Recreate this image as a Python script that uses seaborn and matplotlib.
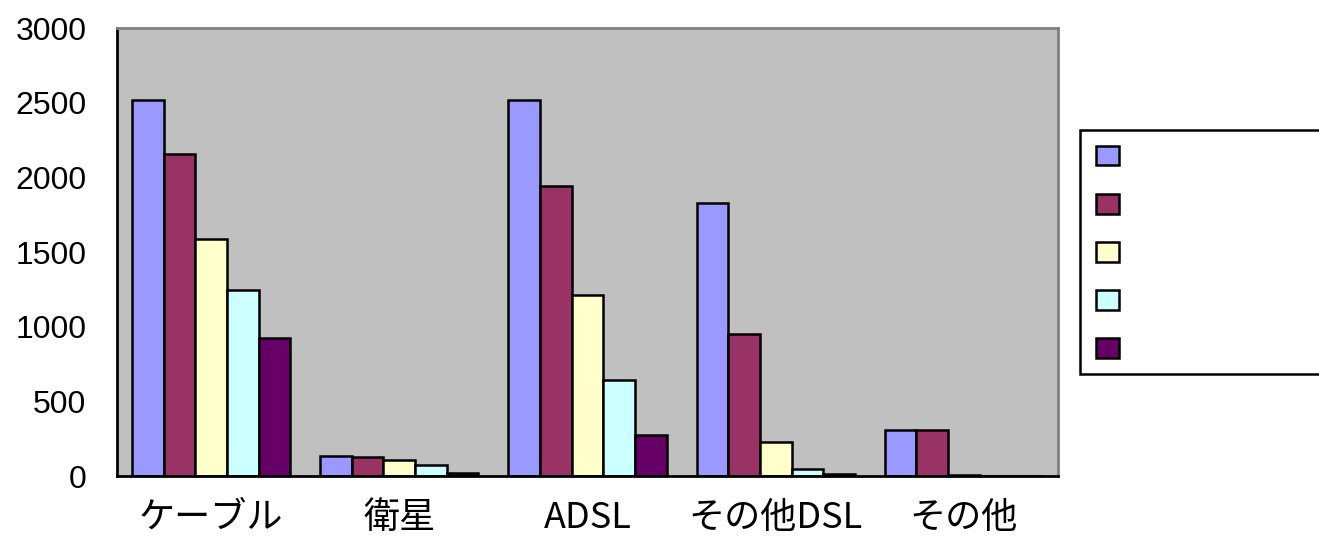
import pandas as pd
import numpy as np
import matplotlib
matplotlib.use("Agg")
import matplotlib.pyplot as plt
import seaborn as sns

# ── Data ──────────────────────────────────────────────────────────────────────
categories = ["ケーブル", "衛星", "ADSL", "その他DSL", "その他"]
series = ["s1", "s2", "s3", "s4", "s5"]
s1 = [2515, 135, 2515, 1825, 305]
s2 = [2155, 128, 1940, 950, 305]
s3 = [1585, 110, 1210, 228, 8]
s4 = [1245, 77, 642, 45, 2]
s5 = [925, 20, 275, 15, 1]
colors = ["#9999FF", "#993366", "#FFFFCC", "#CCFFFF", "#660066"]

df = pd.DataFrame({"category": categories * 5,
                   "series": np.repeat(series, 5),
                   "value": s1 + s2 + s3 + s4 + s5})

sns.set_style("white")
plt.rcParams["font.family"] = ["Liberation Sans", "DejaVu Sans"]

fig = plt.figure(figsize=(13.19, 5.42), dpi=100)
ax = fig.add_axes([117/1319, 66/542, 941/1319, 448/542])

sns.barplot(data=df, x="category", y="value", hue="series", order=categories,
            hue_order=series, palette=colors, width=0.84, gap=0,
            edgecolor="black", linewidth=1.8, saturation=1, ax=ax)

ax.set_facecolor("#C0C0C0")
ax.set_ylim(0, 3000)
ax.set_xlim(-0.5, 4.5)
ax.set_yticks(range(0, 3001, 500))
ax.set_xlabel("")
ax.set_ylabel("")

for side in ["left", "bottom"]:
    ax.spines[side].set_color("black")
    ax.spines[side].set_linewidth(2)
for side in ["top", "right"]:
    ax.spines[side].set_color("#808080")
    ax.spines[side].set_linewidth(2)

ax.tick_params(axis="y", direction="in", length=10, width=1.5, labelsize=23,
               pad=22, labelcolor="black")
ax.tick_params(axis="x", which="major", length=0, pad=17, labelcolor="black")
ax.set_xticks(np.arange(-0.5, 4.6, 1), minor=True)
ax.tick_params(axis="x", which="minor", direction="in", length=12, width=1.5)
for lbl in ax.get_xticklabels():
    lbl.set_fontfamily(["Noto Sans CJK JP", "DejaVu Sans"])
    lbl.set_fontsize(26)

# legend — boxes only, no text
handles, _ = ax.get_legend_handles_labels()
ax.get_legend().remove()
leg = fig.legend(handles, [""] * 5, loc="upper left",
                 bbox_to_anchor=(1080/1319, 1 - 130/542, 0.25, 0), mode="expand",
                 borderaxespad=0, fontsize=14, handlelength=1.2, handleheight=1.2,
                 labelspacing=1.42, borderpad=0.8, handletextpad=0.5,
                 fancybox=False, edgecolor="black", framealpha=1)
leg.get_frame().set_linewidth(1.8)

plt.savefig("out.png", dpi=100)
